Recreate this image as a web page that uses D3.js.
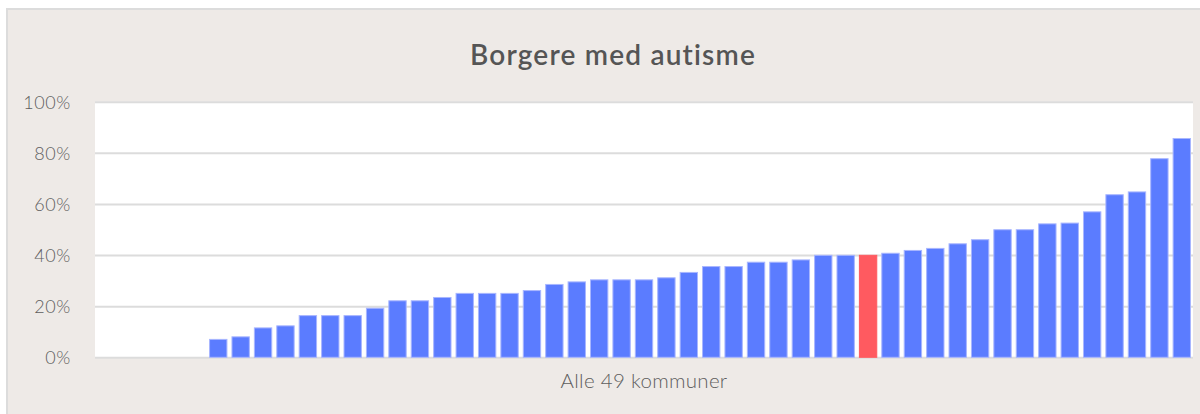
<!DOCTYPE html>
<html>
<head>
<meta charset="utf-8">
<script src="https://cdn.jsdelivr.net/npm/d3@7"></script>
<style>
  html, body { margin: 0; padding: 0; background: #ffffff; }
  svg { display: block; }
</style>
</head>
<body>
<svg id="chart" width="1200" height="414"></svg>
<script>
// ---- data ----
const title = "Borgere med autisme";
const xLabel = "Alle 49 kommuner";
const categories = d3.range(1, 50).map(i => "Kommune " + i);
const values = [0, 0, 0, 0, 0, 7.2, 8.2, 11.7, 12.5, 16.5, 16.5, 16.5, 19.4, 22.3, 22.3,
  23.6, 25.2, 25.2, 25.2, 26.3, 28.7, 29.7, 30.5, 30.5, 30.5, 31.3, 33.4, 35.7, 35.7,
  37.4, 37.4, 38.3, 40.1, 40.1, 40.1, 40.9, 42.0, 42.8, 44.6, 46.2, 50.1, 50.1, 52.4,
  52.7, 57.1, 63.8, 64.9, 77.9, 85.8];
const highlightIndex = [34];
const yTicks = [0, 20, 40, 60, 80, 100];
const yTickLabels = ["0%", "20%", "40%", "60%", "80%", "100%"];

// ---- layout ----
const svg = d3.select("#chart");
const W = 1200, H = 414;
const plot = { left: 95, right: 1193, top: 101.7, bottom: 357.3 };

// background panel
svg.append("rect").attr("x", 6).attr("y", 8.5).attr("width", W - 6).attr("height", H - 8.5)
  .attr("fill", "#eeeae7");
svg.append("line").attr("x1", 7).attr("x2", 7).attr("y1", 8.5).attr("y2", H)
  .attr("stroke", "#dcdcdc").attr("stroke-width", 2);
svg.append("line").attr("x1", 6).attr("x2", W).attr("y1", 9).attr("y2", 9)
  .attr("stroke", "#dcdcdc").attr("stroke-width", 2);

// plot area
svg.append("rect").attr("x", plot.left).attr("y", plot.top)
  .attr("width", plot.right - plot.left).attr("height", plot.bottom - plot.top)
  .attr("fill", "#ffffff");

const x = d3.scaleBand().domain(categories).range([plot.left, plot.right])
  .paddingInner(0.18).paddingOuter(0.09);
const y = d3.scaleLinear().domain([0, 100]).range([plot.bottom, plot.top]);

// gridlines
const yAxis = d3.axisLeft(y).tickValues(yTicks)
  .tickSize(-(plot.right - plot.left))
  .tickFormat((d, i) => yTickLabels[i]);
const gy = svg.append("g").attr("transform", `translate(${plot.left},0)`).call(yAxis);
gy.select(".domain").remove();
gy.selectAll(".tick line").attr("stroke", "#dcdcdc").attr("stroke-width", 2);
gy.selectAll(".tick text")
  .attr("x", -24).attr("dy", "0.36em")
  .attr("fill", "#5e5e5e")
  .style("font-family", "Lato, 'Open Sans', sans-serif")
  .style("font-weight", 300)
  .style("letter-spacing", "0.6px")
  .style("font-size", "18px");

// bars
svg.append("g").selectAll("rect").data(values).join("rect")
  .attr("x", (d, i) => x(categories[i]) + 0.5)
  .attr("width", x.bandwidth() - 1)
  .attr("y", d => y(d) + 0.5)
  .attr("height", d => Math.max(0, y(0) - y(d) - 0.5))
  .attr("fill", (d, i) => highlightIndex.includes(i) ? "#ff5a60" : "#5b7cff")
  .attr("stroke", (d, i) => highlightIndex.includes(i) ? "#ff5a60" : "#a8b6ff")
  .attr("stroke-width", 1)
  .style("display", d => d > 0 ? null : "none");

// title
svg.append("text").attr("x", 613).attr("y", 65).attr("text-anchor", "middle")
  .attr("fill", "#555")
  .style("font-family", "Lato, 'Open Sans', sans-serif")
  .style("font-weight", 600)
  .style("font-size", "28px")
  .style("letter-spacing", "1.2px")
  .text(title);

// x label
svg.append("text").attr("x", (plot.left + plot.right) / 2).attr("y", 388)
  .attr("text-anchor", "middle")
  .attr("fill", "#5e5e5e")
  .style("font-family", "Lato, 'Open Sans', sans-serif")
  .style("font-weight", 300)
  .style("font-size", "20.5px")
  .style("letter-spacing", "0.3px")
  .text(xLabel);
</script>
</body>
</html>
